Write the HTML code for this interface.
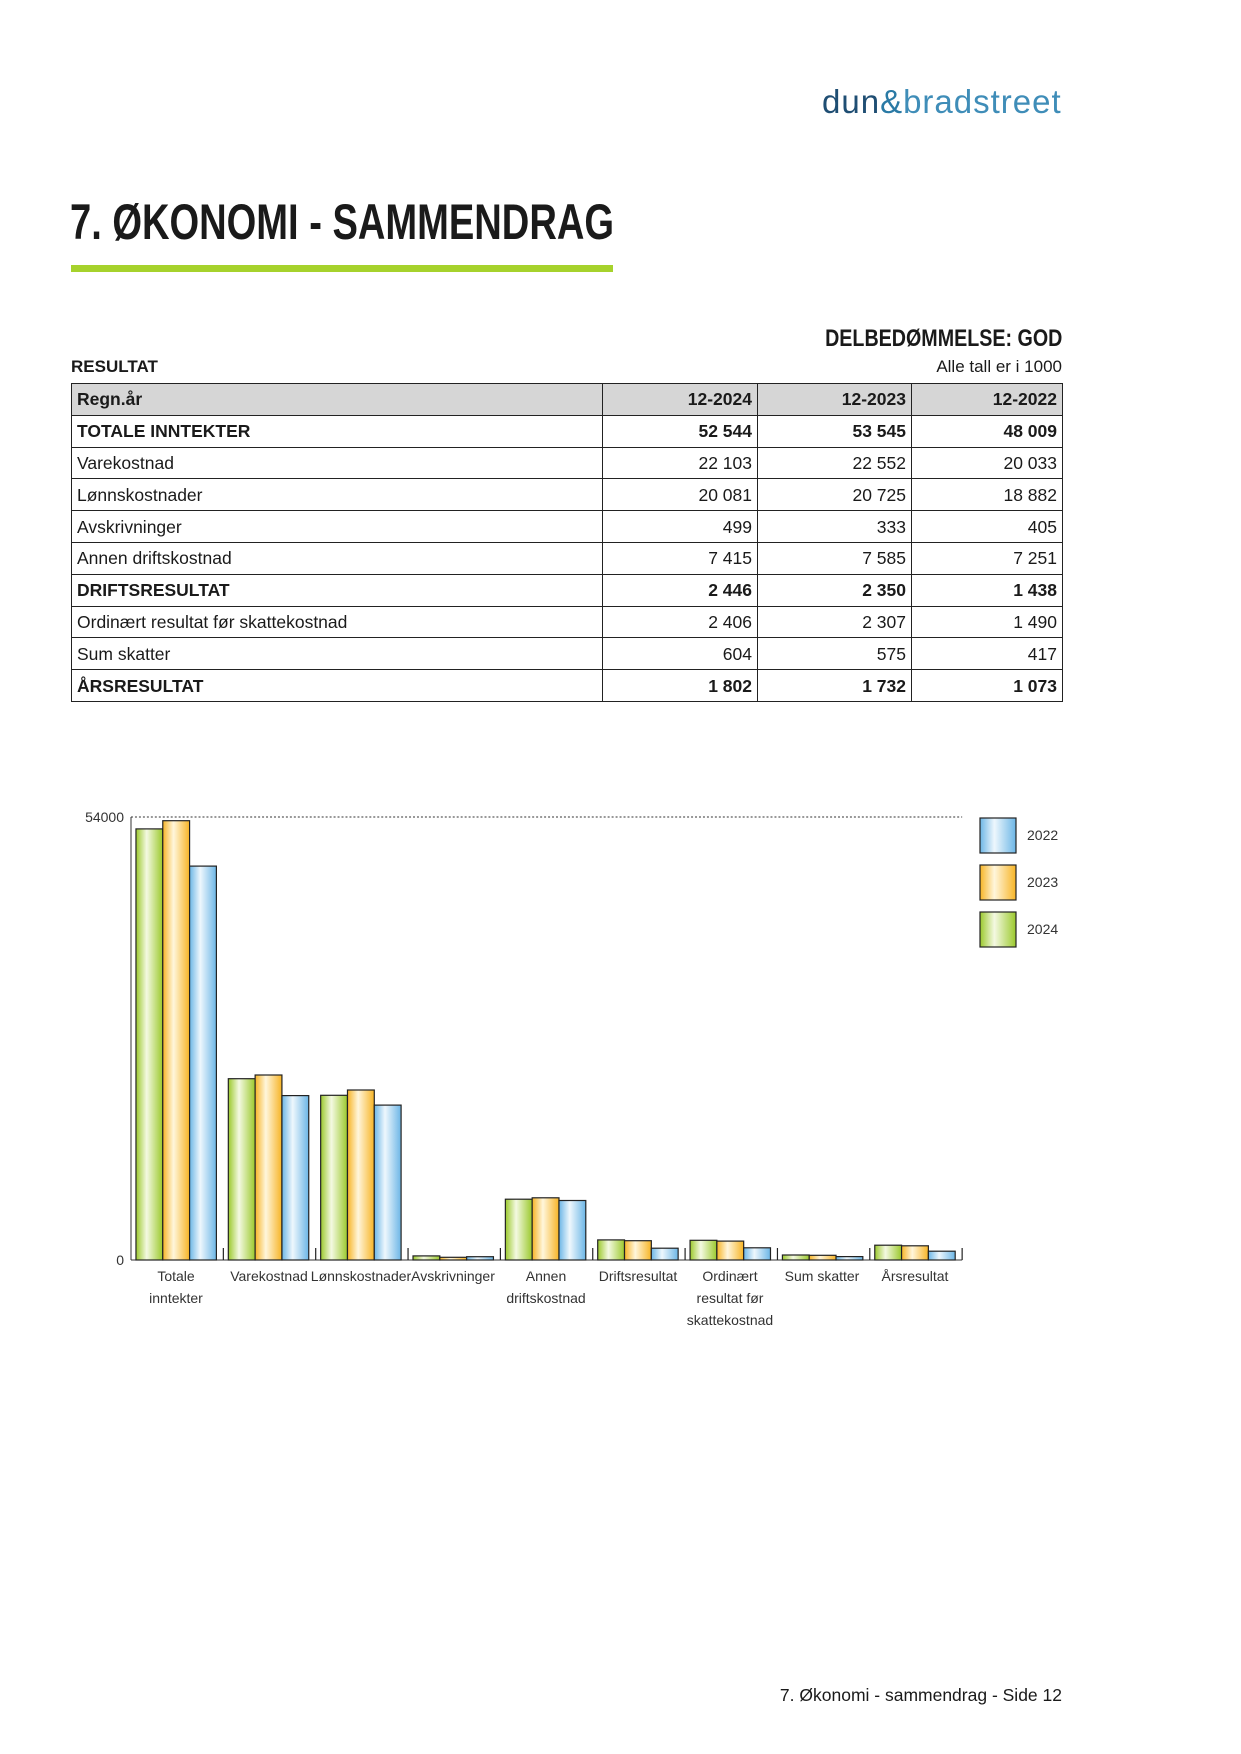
<!DOCTYPE html>
<html><head><meta charset="utf-8"><style>
body{margin:0;background:#fff;}
.pg{position:relative;width:1241px;height:1754px;font-family:"Liberation Sans",sans-serif;color:#1a1a1a;overflow:hidden}
.a{position:absolute;white-space:nowrap}
.n{font-family:"Liberation Sans Narrow","Liberation Sans",sans-serif;font-weight:bold}
table{position:absolute;left:71px;top:383px;width:992px;border-collapse:collapse;font-size:17.5px}
td{border:1px solid #222;height:30.8px;padding:0 5px;line-height:30px}
td.r{text-align:right}
tr.h td{background:#d6d6d6;font-weight:bold}
tr.b td{font-weight:bold}
</style></head><body><div class="pg">
<div class="a" style="left:822px;top:83px;font-size:33px;letter-spacing:1px;color:#1f4e73;font-weight:300">dun<span style="color:#2a7aa5">&amp;</span><span style="color:#3f8db8">bradstreet</span></div>
<div class="a n" style="left:70px;top:193px;font-size:50px;transform:scaleX(0.762);transform-origin:left">7. ØKONOMI - SAMMENDRAG</div>
<div class="a" style="left:71px;top:265px;width:542px;height:7px;background:#a6d22c"></div>
<div class="a n" style="right:179px;top:325px;font-size:24px;transform:scaleX(0.82);transform-origin:right">DELBEDØMMELSE: GOD</div>
<div class="a" style="left:71px;top:357px;font-size:17px;font-weight:bold">RESULTAT</div>
<div class="a" style="right:179px;top:357px;font-size:17px">Alle tall er i 1000</div>
<table>
<colgroup><col style="width:531px"><col style="width:155px"><col style="width:154px"><col></colgroup>
<tr class="h"><td>Regn.år</td><td class="r">12-2024</td><td class="r">12-2023</td><td class="r">12-2022</td></tr>
<tr class="b"><td>TOTALE INNTEKTER</td><td class="r">52 544</td><td class="r">53 545</td><td class="r">48 009</td></tr>
<tr><td>Varekostnad</td><td class="r">22 103</td><td class="r">22 552</td><td class="r">20 033</td></tr>
<tr><td>Lønnskostnader</td><td class="r">20 081</td><td class="r">20 725</td><td class="r">18 882</td></tr>
<tr><td>Avskrivninger</td><td class="r">499</td><td class="r">333</td><td class="r">405</td></tr>
<tr><td>Annen driftskostnad</td><td class="r">7 415</td><td class="r">7 585</td><td class="r">7 251</td></tr>
<tr class="b"><td>DRIFTSRESULTAT</td><td class="r">2 446</td><td class="r">2 350</td><td class="r">1 438</td></tr>
<tr><td>Ordinært resultat før skattekostnad</td><td class="r">2 406</td><td class="r">2 307</td><td class="r">1 490</td></tr>
<tr><td>Sum skatter</td><td class="r">604</td><td class="r">575</td><td class="r">417</td></tr>
<tr class="b"><td>ÅRSRESULTAT</td><td class="r">1 802</td><td class="r">1 732</td><td class="r">1 073</td></tr>
</table>
<svg class="a" style="left:0;top:0" width="1241" height="1754" font-family="Liberation Sans, sans-serif">
<defs>
<linearGradient id="g"><stop offset="0" stop-color="#9bc92c"/><stop offset="0.4" stop-color="#f4f9e2"/><stop offset="1" stop-color="#9bc92c"/></linearGradient>
<linearGradient id="o"><stop offset="0" stop-color="#f7b425"/><stop offset="0.4" stop-color="#fff6dc"/><stop offset="1" stop-color="#f7b425"/></linearGradient>
<linearGradient id="b"><stop offset="0" stop-color="#6cb6e6"/><stop offset="0.4" stop-color="#eef7fd"/><stop offset="1" stop-color="#6cb6e6"/></linearGradient>
</defs>
<g transform="translate(131,0) scale(0.993,1) translate(-131,0)">
<line x1="131" y1="817" x2="968" y2="817" stroke="#333" stroke-dasharray="2,2"/>
<line x1="131" y1="817" x2="131" y2="1260" stroke="#333"/>
<line x1="131" y1="1260" x2="968" y2="1260" stroke="#333"/>
<g stroke="#222" stroke-width="1.2">
<line x1="224" y1="1248" x2="224" y2="1260"/><line x1="317" y1="1248" x2="317" y2="1260"/><line x1="410" y1="1248" x2="410" y2="1260"/><line x1="503" y1="1248" x2="503" y2="1260"/><line x1="596" y1="1248" x2="596" y2="1260"/><line x1="689" y1="1248" x2="689" y2="1260"/><line x1="782" y1="1248" x2="782" y2="1260"/><line x1="875" y1="1248" x2="875" y2="1260"/><line x1="968" y1="1248" x2="968" y2="1260"/>
</g>
<g stroke="#222" stroke-width="1.2">
<rect x="136" y="828.9" width="27" height="431.1" fill="url(#g)"/><rect x="163" y="820.7" width="27" height="439.3" fill="url(#o)"/><rect x="190" y="866.1" width="27" height="393.9" fill="url(#b)"/>
<rect x="229" y="1078.7" width="27" height="181.3" fill="url(#g)"/><rect x="256" y="1075" width="27" height="185" fill="url(#o)"/><rect x="283" y="1095.6" width="27" height="164.4" fill="url(#b)"/>
<rect x="322" y="1095.3" width="27" height="164.7" fill="url(#g)"/><rect x="349" y="1090" width="27" height="170" fill="url(#o)"/><rect x="376" y="1105.1" width="27" height="154.9" fill="url(#b)"/>
<rect x="415" y="1255.9" width="27" height="4.1" fill="url(#g)"/><rect x="442" y="1257.3" width="27" height="2.7" fill="url(#o)"/><rect x="469" y="1256.7" width="27" height="3.3" fill="url(#b)"/>
<rect x="508" y="1199.2" width="27" height="60.8" fill="url(#g)"/><rect x="535" y="1197.8" width="27" height="62.2" fill="url(#o)"/><rect x="562" y="1200.5" width="27" height="59.5" fill="url(#b)"/>
<rect x="601" y="1239.9" width="27" height="20.1" fill="url(#g)"/><rect x="628" y="1240.7" width="27" height="19.3" fill="url(#o)"/><rect x="655" y="1248.2" width="27" height="11.8" fill="url(#b)"/>
<rect x="694" y="1240.3" width="27" height="19.7" fill="url(#g)"/><rect x="721" y="1241.1" width="27" height="18.9" fill="url(#o)"/><rect x="748" y="1247.8" width="27" height="12.2" fill="url(#b)"/>
<rect x="787" y="1255" width="27" height="5" fill="url(#g)"/><rect x="814" y="1255.3" width="27" height="4.7" fill="url(#o)"/><rect x="841" y="1256.6" width="27" height="3.4" fill="url(#b)"/>
<rect x="880" y="1245.2" width="27" height="14.8" fill="url(#g)"/><rect x="907" y="1245.8" width="27" height="14.2" fill="url(#o)"/><rect x="934" y="1251.2" width="27" height="8.8" fill="url(#b)"/>
</g>
</g>
<text x="124" y="822" font-size="14" text-anchor="end" fill="#333">54000</text>
<text x="124" y="1265" font-size="14" text-anchor="end" fill="#333">0</text>
<g stroke="#222" stroke-width="1.2">
<rect x="980" y="818" width="36" height="35" fill="url(#b)"/><rect x="980" y="865" width="36" height="35" fill="url(#o)"/><rect x="980" y="912" width="36" height="35" fill="url(#g)"/>
</g>
<g font-size="14" fill="#333">
<text x="1027" y="840">2022</text><text x="1027" y="887">2023</text><text x="1027" y="934">2024</text>
</g>
<g font-size="14" fill="#333" text-anchor="middle">
<text x="176" y="1281">Totale</text><text x="176" y="1303">inntekter</text>
<text x="269" y="1281">Varekostnad</text>
<text x="361" y="1281">Lønnskostnader</text>
<text x="453" y="1281">Avskrivninger</text>
<text x="546" y="1281">Annen</text><text x="546" y="1303">driftskostnad</text>
<text x="638" y="1281">Driftsresultat</text>
<text x="730" y="1281">Ordinært</text><text x="730" y="1303">resultat før</text><text x="730" y="1325">skattekostnad</text>
<text x="822" y="1281">Sum skatter</text>
<text x="915" y="1281">Årsresultat</text>
</g>
</svg>
<div class="a" style="right:179px;top:1685px;font-size:17.5px">7. Økonomi - sammendrag - Side 12</div>
</div></body></html>
